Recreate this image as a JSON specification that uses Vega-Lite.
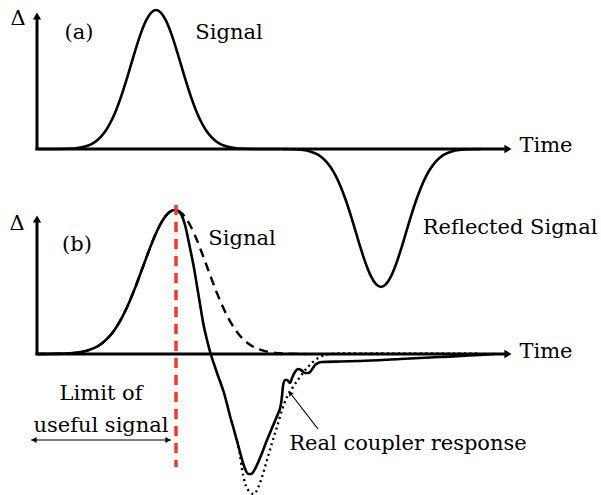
{
  "$schema": "https://vega.github.io/schema/vega-lite/v6.json",
  "width": 601,
  "height": 495,
  "padding": 0,
  "autosize": "none",
  "background": "white",
  "config": {"view": {"stroke": null}, "font": "DejaVu Serif"},
  "datasets": {
    "curves": [
      {"s": "a1", "x": 37, "y": 149}, {"s": "a1", "x": 56, "y": 149}, {"s": "a1", "x": 66, "y": 148.8}, {"s": "a1", "x": 76, "y": 148.2},
      {"s": "a1", "x": 86, "y": 146.2}, {"s": "a1", "x": 91, "y": 144.3}, {"s": "a1", "x": 96, "y": 141.2}, {"s": "a1", "x": 101, "y": 136.6},
      {"s": "a1", "x": 106, "y": 130.2}, {"s": "a1", "x": 111, "y": 121.5}, {"s": "a1", "x": 116, "y": 110.4}, {"s": "a1", "x": 121, "y": 96.8},
      {"s": "a1", "x": 126, "y": 81.3}, {"s": "a1", "x": 131, "y": 64.7}, {"s": "a1", "x": 136, "y": 48.1}, {"s": "a1", "x": 141, "y": 32.9},
      {"s": "a1", "x": 146, "y": 20.7}, {"s": "a1", "x": 151, "y": 12.8}, {"s": "a1", "x": 156, "y": 10}, {"s": "a1", "x": 161, "y": 12.8},
      {"s": "a1", "x": 166, "y": 20.7}, {"s": "a1", "x": 171, "y": 32.9}, {"s": "a1", "x": 176, "y": 48.1}, {"s": "a1", "x": 181, "y": 64.7},
      {"s": "a1", "x": 186, "y": 81.3}, {"s": "a1", "x": 191, "y": 96.8}, {"s": "a1", "x": 196, "y": 110.4}, {"s": "a1", "x": 201, "y": 121.5},
      {"s": "a1", "x": 206, "y": 130.2}, {"s": "a1", "x": 211, "y": 136.6}, {"s": "a1", "x": 216, "y": 141.2}, {"s": "a1", "x": 221, "y": 144.3},
      {"s": "a1", "x": 226, "y": 146.2}, {"s": "a1", "x": 236, "y": 148.2}, {"s": "a1", "x": 246, "y": 148.8}, {"s": "a1", "x": 256, "y": 149},
      {"s": "a1", "x": 280, "y": 149},
      {"s": "a2", "x": 281, "y": 149}, {"s": "a2", "x": 291, "y": 149.2}, {"s": "a2", "x": 301, "y": 149.8}, {"s": "a2", "x": 311, "y": 151.7},
      {"s": "a2", "x": 316, "y": 153.7}, {"s": "a2", "x": 321, "y": 156.7}, {"s": "a2", "x": 326, "y": 161.3}, {"s": "a2", "x": 331, "y": 167.7},
      {"s": "a2", "x": 336, "y": 176.3}, {"s": "a2", "x": 341, "y": 187.4}, {"s": "a2", "x": 346, "y": 200.8}, {"s": "a2", "x": 351, "y": 216.2},
      {"s": "a2", "x": 356, "y": 232.7}, {"s": "a2", "x": 361, "y": 249.2}, {"s": "a2", "x": 366, "y": 264.3}, {"s": "a2", "x": 371, "y": 276.4},
      {"s": "a2", "x": 376, "y": 284.2}, {"s": "a2", "x": 381, "y": 287}, {"s": "a2", "x": 386, "y": 284.2}, {"s": "a2", "x": 391, "y": 276.4},
      {"s": "a2", "x": 396, "y": 264.3}, {"s": "a2", "x": 401, "y": 249.2}, {"s": "a2", "x": 406, "y": 232.7}, {"s": "a2", "x": 411, "y": 216.2},
      {"s": "a2", "x": 416, "y": 200.8}, {"s": "a2", "x": 421, "y": 187.4}, {"s": "a2", "x": 426, "y": 176.3}, {"s": "a2", "x": 431, "y": 167.7},
      {"s": "a2", "x": 436, "y": 161.3}, {"s": "a2", "x": 441, "y": 156.7}, {"s": "a2", "x": 446, "y": 153.7}, {"s": "a2", "x": 451, "y": 151.7},
      {"s": "a2", "x": 461, "y": 149.8}, {"s": "a2", "x": 471, "y": 149.2}, {"s": "a2", "x": 481, "y": 149},
      {"s": "bs", "x": 37, "y": 354}, {"s": "bs", "x": 65, "y": 353.6}, {"s": "bs", "x": 75, "y": 352.9}, {"s": "bs", "x": 85, "y": 351.2},
      {"s": "bs", "x": 95, "y": 347.7}, {"s": "bs", "x": 100, "y": 344.8}, {"s": "bs", "x": 105, "y": 340.8}, {"s": "bs", "x": 110, "y": 335.7},
      {"s": "bs", "x": 115, "y": 329.2}, {"s": "bs", "x": 120, "y": 321.1}, {"s": "bs", "x": 125, "y": 311.5}, {"s": "bs", "x": 130, "y": 300.4},
      {"s": "bs", "x": 135, "y": 288.1}, {"s": "bs", "x": 140, "y": 274.8}, {"s": "bs", "x": 145, "y": 261.2}, {"s": "bs", "x": 150, "y": 247.9},
      {"s": "bs", "x": 155, "y": 235.5}, {"s": "bs", "x": 160, "y": 225}, {"s": "bs", "x": 165, "y": 216.9}, {"s": "bs", "x": 170, "y": 211.7},
      {"s": "bs", "x": 175, "y": 210}, {"s": "bs", "x": 178, "y": 211}, {"s": "bs", "x": 181, "y": 214}, {"s": "bs", "x": 185, "y": 225},
      {"s": "bs", "x": 190, "y": 248}, {"s": "bs", "x": 194, "y": 268}, {"s": "bs", "x": 197, "y": 286}, {"s": "bs", "x": 200, "y": 304},
      {"s": "bs", "x": 203, "y": 322}, {"s": "bs", "x": 207, "y": 340}, {"s": "bs", "x": 211, "y": 355}, {"s": "bs", "x": 214, "y": 364},
      {"s": "bs", "x": 217, "y": 373}, {"s": "bs", "x": 221, "y": 384}, {"s": "bs", "x": 224, "y": 393}, {"s": "bs", "x": 227, "y": 404},
      {"s": "bs", "x": 230, "y": 416}, {"s": "bs", "x": 234, "y": 430}, {"s": "bs", "x": 237, "y": 441}, {"s": "bs", "x": 240, "y": 452},
      {"s": "bs", "x": 243, "y": 463}, {"s": "bs", "x": 246, "y": 471}, {"s": "bs", "x": 248, "y": 474}, {"s": "bs", "x": 251, "y": 474},
      {"s": "bs", "x": 255, "y": 469}, {"s": "bs", "x": 260, "y": 458}, {"s": "bs", "x": 267, "y": 440}, {"s": "bs", "x": 272, "y": 428},
      {"s": "bs", "x": 277, "y": 416}, {"s": "bs", "x": 281, "y": 404}, {"s": "bs", "x": 282, "y": 396}, {"s": "bs", "x": 283, "y": 386},
      {"s": "bs", "x": 285, "y": 380}, {"s": "bs", "x": 287, "y": 380}, {"s": "bs", "x": 290, "y": 383}, {"s": "bs", "x": 292, "y": 378},
      {"s": "bs", "x": 295, "y": 372}, {"s": "bs", "x": 298, "y": 369}, {"s": "bs", "x": 301, "y": 370}, {"s": "bs", "x": 305, "y": 373},
      {"s": "bs", "x": 308, "y": 373}, {"s": "bs", "x": 310, "y": 372}, {"s": "bs", "x": 313, "y": 368}, {"s": "bs", "x": 315, "y": 365},
      {"s": "bs", "x": 318, "y": 363}, {"s": "bs", "x": 322, "y": 362}, {"s": "bs", "x": 340, "y": 361.5}, {"s": "bs", "x": 360, "y": 361},
      {"s": "bs", "x": 400, "y": 359}, {"s": "bs", "x": 440, "y": 357}, {"s": "bs", "x": 480, "y": 355}, {"s": "bs", "x": 495, "y": 354},
      {"s": "bd", "x": 37, "y": 354}, {"s": "bd", "x": 65, "y": 353.6}, {"s": "bd", "x": 75, "y": 352.9}, {"s": "bd", "x": 85, "y": 351.2},
      {"s": "bd", "x": 95, "y": 347.7}, {"s": "bd", "x": 100, "y": 344.8}, {"s": "bd", "x": 105, "y": 340.8}, {"s": "bd", "x": 110, "y": 335.7},
      {"s": "bd", "x": 115, "y": 329.2}, {"s": "bd", "x": 120, "y": 321.1}, {"s": "bd", "x": 125, "y": 311.5}, {"s": "bd", "x": 130, "y": 300.4},
      {"s": "bd", "x": 135, "y": 288.1}, {"s": "bd", "x": 140, "y": 274.8}, {"s": "bd", "x": 145, "y": 261.2}, {"s": "bd", "x": 150, "y": 247.9},
      {"s": "bd", "x": 155, "y": 235.5}, {"s": "bd", "x": 160, "y": 225}, {"s": "bd", "x": 165, "y": 216.9}, {"s": "bd", "x": 170, "y": 211.7},
      {"s": "bd", "x": 175, "y": 210}, {"s": "bd", "x": 180, "y": 211.7}, {"s": "bd", "x": 185, "y": 216.9}, {"s": "bd", "x": 190, "y": 225},
      {"s": "bd", "x": 195, "y": 235.5}, {"s": "bd", "x": 200, "y": 247.9}, {"s": "bd", "x": 205, "y": 261.2}, {"s": "bd", "x": 210, "y": 274.8},
      {"s": "bd", "x": 215, "y": 288.1}, {"s": "bd", "x": 220, "y": 300.4}, {"s": "bd", "x": 225, "y": 311.5}, {"s": "bd", "x": 230, "y": 321.1},
      {"s": "bd", "x": 235, "y": 329.2}, {"s": "bd", "x": 240, "y": 335.7}, {"s": "bd", "x": 245, "y": 340.8}, {"s": "bd", "x": 250, "y": 344.8},
      {"s": "bd", "x": 255, "y": 347.7}, {"s": "bd", "x": 265, "y": 351.2}, {"s": "bd", "x": 275, "y": 352.9}, {"s": "bd", "x": 285, "y": 353.6},
      {"s": "bd", "x": 305, "y": 354},
      {"s": "bo", "x": 237, "y": 441}, {"s": "bo", "x": 240, "y": 455}, {"s": "bo", "x": 242, "y": 469}, {"s": "bo", "x": 245, "y": 483},
      {"s": "bo", "x": 250, "y": 492}, {"s": "bo", "x": 254, "y": 494}, {"s": "bo", "x": 258, "y": 488}, {"s": "bo", "x": 262, "y": 477},
      {"s": "bo", "x": 267, "y": 460}, {"s": "bo", "x": 272, "y": 443}, {"s": "bo", "x": 277, "y": 427}, {"s": "bo", "x": 282, "y": 410},
      {"s": "bo", "x": 287, "y": 397}, {"s": "bo", "x": 293, "y": 387}, {"s": "bo", "x": 300, "y": 377}, {"s": "bo", "x": 307, "y": 368},
      {"s": "bo", "x": 313, "y": 362}, {"s": "bo", "x": 320, "y": 357}, {"s": "bo", "x": 327, "y": 354.5}, {"s": "bo", "x": 340, "y": 353.5},
      {"s": "bo", "x": 480, "y": 353.5}
    ]
  },
  "encoding": {
    "x": {"type": "quantitative", "scale": {"domain": [0, 601], "nice": false, "zero": false}, "axis": null},
    "y": {"type": "quantitative", "scale": {"domain": [0, 495], "nice": false, "zero": false, "reverse": true}, "axis": null}
  },
  "layer": [
    {
      "data": {"values": [
        {"x": 37, "y": 150, "x2": 37, "y2": 18},
        {"x": 35.5, "y": 149, "x2": 507, "y2": 149},
        {"x": 37, "y": 355, "x2": 37, "y2": 221},
        {"x": 35.5, "y": 354, "x2": 507, "y2": 354}
      ]},
      "mark": {"type": "rule", "strokeWidth": 3, "color": "black"},
      "encoding": {"x": {"field": "x"}, "y": {"field": "y"}, "x2": {"field": "x2"}, "y2": {"field": "y2"}}
    },
    {
      "data": {"values": [{"x": 37, "y": 16}, {"x": 37, "y": 219}]},
      "mark": {"type": "point", "shape": "triangle-up", "filled": true, "color": "black", "size": 70, "opacity": 1},
      "encoding": {"x": {"field": "x"}, "y": {"field": "y"}}
    },
    {
      "data": {"values": [{"x": 508, "y": 149}, {"x": 508, "y": 354}]},
      "mark": {"type": "point", "shape": "triangle-right", "filled": true, "color": "black", "size": 70, "opacity": 1},
      "encoding": {"x": {"field": "x"}, "y": {"field": "y"}}
    },
    {
      "data": {"name": "curves"},
      "transform": [{"filter": "datum.s == 'a1' || datum.s == 'a2' || datum.s == 'bs'"}],
      "mark": {"type": "line", "color": "black", "strokeWidth": 2.6, "interpolate": "monotone", "strokeJoin": "round"},
      "encoding": {"x": {"field": "x"}, "y": {"field": "y"}, "detail": {"field": "s"}}
    },
    {
      "data": {"name": "curves"},
      "transform": [{"filter": "datum.s == 'bd'"}],
      "mark": {"type": "line", "color": "black", "strokeWidth": 2.4, "strokeDash": [9, 6], "interpolate": "monotone"},
      "encoding": {"x": {"field": "x"}, "y": {"field": "y"}}
    },
    {
      "data": {"name": "curves"},
      "transform": [{"filter": "datum.s == 'bo'"}],
      "mark": {"type": "line", "color": "black", "strokeWidth": 2.4, "strokeDash": [2, 3.5], "interpolate": "monotone"},
      "encoding": {"x": {"field": "x"}, "y": {"field": "y"}}
    },
    {
      "data": {"values": [{"x": 176, "y": 205, "y2": 467}]},
      "mark": {"type": "rule", "color": "#ee3b24", "strokeWidth": 3.5, "strokeDash": [10, 7]},
      "encoding": {"x": {"field": "x"}, "y": {"field": "y"}, "y2": {"field": "y2"}}
    },
    {
      "data": {"values": [{"x": 31, "y": 440, "x2": 171, "y2": 440}, {"x": 318, "y": 429, "x2": 291, "y2": 394}]},
      "mark": {"type": "rule", "color": "black", "strokeWidth": 1.2},
      "encoding": {"x": {"field": "x"}, "y": {"field": "y"}, "x2": {"field": "x2"}, "y2": {"field": "y2"}}
    },
    {
      "data": {"values": [{"x": 34, "y": 440}]},
      "mark": {"type": "point", "shape": "triangle-left", "filled": true, "color": "black", "size": 35, "opacity": 1},
      "encoding": {"x": {"field": "x"}, "y": {"field": "y"}}
    },
    {
      "data": {"values": [{"x": 168, "y": 440}]},
      "mark": {"type": "point", "shape": "triangle-right", "filled": true, "color": "black", "size": 35, "opacity": 1},
      "encoding": {"x": {"field": "x"}, "y": {"field": "y"}}
    },
    {
      "data": {"values": [{"x": 290, "y": 393}]},
      "mark": {"type": "point", "shape": "triangle-up", "angle": -37, "filled": true, "color": "black", "size": 30, "opacity": 1},
      "encoding": {"x": {"field": "x"}, "y": {"field": "y"}}
    },
    {
      "data": {"values": [
        {"x": 18, "y": 25, "t": "Δ"},
        {"x": 79, "y": 39, "t": "(a)"},
        {"x": 229, "y": 39, "t": "Signal"},
        {"x": 546, "y": 152, "t": "Time"},
        {"x": 510, "y": 234, "t": "Reflected Signal"},
        {"x": 17, "y": 230, "t": "Δ"},
        {"x": 77, "y": 251, "t": "(b)"},
        {"x": 242, "y": 245, "t": "Signal"},
        {"x": 546, "y": 358, "t": "Time"},
        {"x": 101, "y": 400, "t": "Limit of"},
        {"x": 101, "y": 432, "t": "useful signal"},
        {"x": 408, "y": 450, "t": "Real coupler response"}
      ]},
      "mark": {"type": "text", "align": "center", "baseline": "alphabetic", "font": "DejaVu Serif", "fontSize": 21, "color": "black"},
      "encoding": {"x": {"field": "x"}, "y": {"field": "y"}, "text": {"field": "t"}}
    }
  ]
}
